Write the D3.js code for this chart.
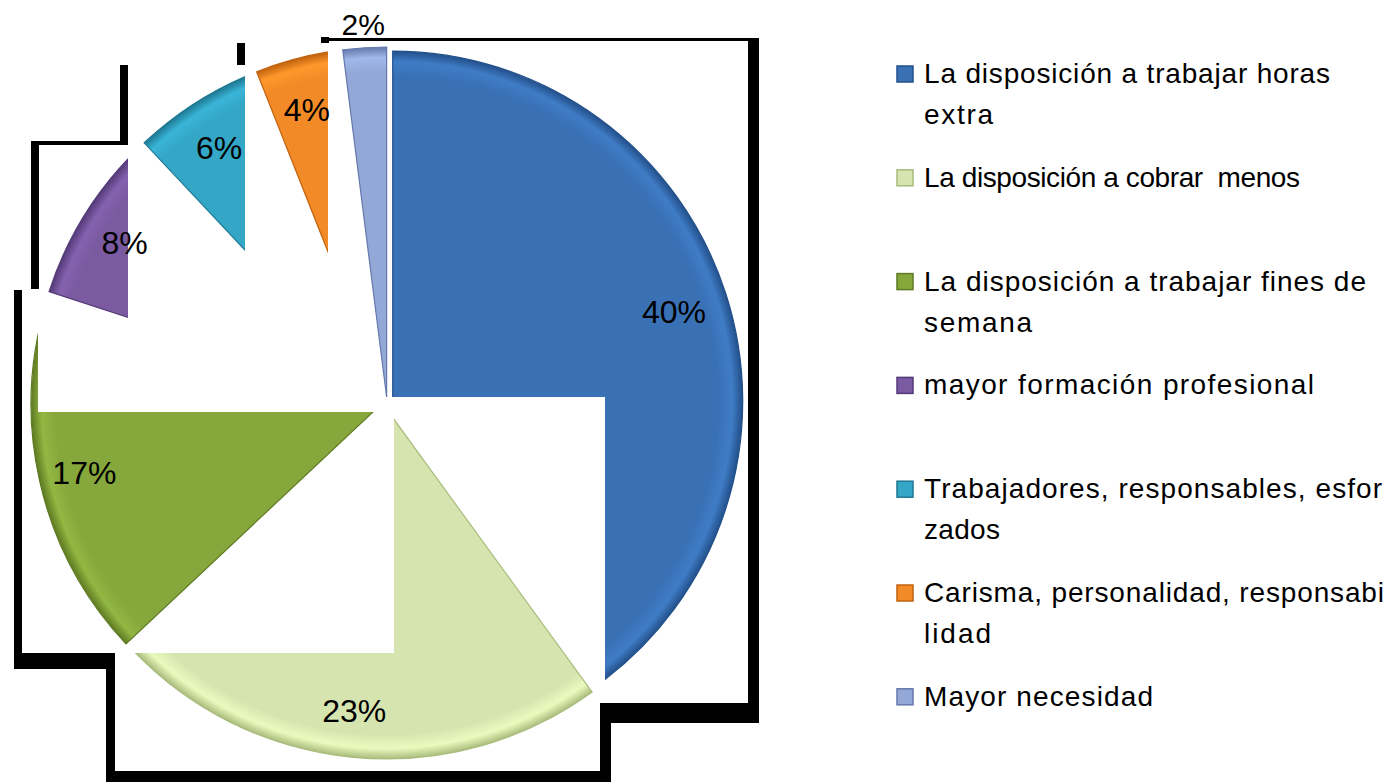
<!DOCTYPE html>
<html>
<head>
<meta charset="utf-8">
<script src="https://cdn.jsdelivr.net/npm/d3@7/dist/d3.min.js"></script>
<style>
  html, body { margin: 0; padding: 0; background: #ffffff; }
  svg { display: block; }
  text { font-family: "Liberation Sans", Arial, sans-serif; white-space: pre; }
</style>
</head>
<body>
<svg id="chart" width="1389" height="782"></svg>
<script>
// ---------------- data ----------------
const categories = [
  "La disposición a trabajar horas extra",
  "La disposición a cobrar  menos",
  "La disposición a trabajar fines de semana",
  "mayor formación profesional",
  "Trabajadores, responsables, esforzados",
  "Carisma, personalidad, responsabilidad",
  "Mayor necesidad"
];
const values = [40, 23, 17, 8, 6, 4, 2];
const legendLines = [
  ["La disposición a trabajar horas", "extra"],
  ["La disposición a cobrar  menos"],
  ["La disposición a trabajar fines de", "semana"],
  ["mayor formación profesional"],
  ["Trabajadores, responsables, esfor", "zados"],
  ["Carisma, personalidad, responsabi", "lidad"],
  ["Mayor necesidad"]
];
const colors = ["#3A71B5", "#D6E5AF", "#86A73C", "#7A5AA0", "#34A6C6", "#F28B27", "#93A8D7"];
const darkColors = ["#23508A", "#A9BC7C", "#5E7A22", "#543A78", "#1E7893", "#C0620E", "#6478AC"];

// ---------------- layout (styling only) ----------------
const W = 1389, H = 782;
const cx = 387, cy = 403, R = 350, explode = 6;
const legendWidths = [[406, 69], [376], [442, 108], [390], [458, 76], [460, 67], [229]];

const svg = d3.select("#chart");
svg.append("rect").attr("width", W).attr("height", H).attr("fill", "#ffffff");

const defs = svg.append("defs");

// gradients (bevel-like rim)
colors.forEach((c, i) => {
  const g = defs.append("radialGradient")
    .attr("id", "grad" + i)
    .attr("gradientUnits", "userSpaceOnUse")
    .attr("cx", 0).attr("cy", 0).attr("r", R);
  g.append("stop").attr("offset", "0%").attr("stop-color", c);
  g.append("stop").attr("offset", "93%").attr("stop-color", c);
  g.append("stop").attr("offset", "97%").attr("stop-color", d3.color(c).brighter(0.25));
  g.append("stop").attr("offset", "100%").attr("stop-color", darkColors[i]);
});

// rendering-artifact tiles: which parts of each slice show through
const clipRects = [
  [[0, 0, W, 397], [605, 0, W - 605, H]],        // blue
  [[394, 0, W - 394, H], [0, 653, W, H - 653]],  // light green
  [[0, 412, W, H - 412], [0, 0, 38, H]],         // green
  [[0, 0, 128, H]],                              // purple
  [[0, 0, 245, H]],                              // cyan
  [[0, 0, 328, H]],                              // orange
  [[0, 0, 388, H]]                               // light blue
];
clipRects.forEach((rs, i) => {
  const cp = defs.append("clipPath").attr("id", "clip" + i);
  rs.forEach(r => cp.append("rect").attr("x", r[0]).attr("y", r[1]).attr("width", r[2]).attr("height", r[3]));
});

// ---------------- pie ----------------
const pie = d3.pie().sort(null).value(d => d)(values);
const arc = d3.arc().innerRadius(0).outerRadius(R);
const labelArc = d3.arc().innerRadius(300).outerRadius(300);
const outerLabelArc = d3.arc().innerRadius(372).outerRadius(372);

function offset(d) {
  const a = (d.startAngle + d.endAngle) / 2;
  return [Math.sin(a) * explode, -Math.cos(a) * explode];
}

pie.forEach((d, i) => {
  const [ox, oy] = offset(d);
  svg.append("g").attr("clip-path", "url(#clip" + i + ")")
    .append("path")
    .attr("transform", `translate(${cx + ox},${cy + oy})`)
    .attr("d", arc(d))
    .attr("fill", `url(#grad${i})`)
    .attr("stroke", darkColors[i])
    .attr("stroke-width", 1.2);
});

// shadow frame fragments (artifact of the original rendering)
const frame = [
  [322, 38, 437, 3], [321, 37, 8, 6], [237, 43, 8, 22], [120, 65, 8, 79],
  [31, 141, 97, 4], [31, 141, 8, 148], [14, 290, 8, 379], [14, 653, 101, 16],
  [106, 653, 9, 129], [106, 771, 505, 11], [600, 703, 11, 79], [600, 703, 159, 20],
  [748, 38, 11, 685]
];
svg.append("g").selectAll("rect").data(frame).join("rect")
  .attr("x", d => d[0]).attr("y", d => d[1])
  .attr("width", d => d[2]).attr("height", d => d[3])
  .attr("fill", "#000");

// data labels
svg.append("g").selectAll("text").data(pie).join("text")
  .attr("transform", d => {
    const [ox, oy] = offset(d);
    const outside = d.data < 3;
    const c = (outside ? outerLabelArc : labelArc).centroid(d);
    const sx = outside ? 0 : -4, sy = outside ? -2 : 3;
    return `translate(${cx + ox + c[0] + sx},${cy + oy + c[1] + sy})`;
  })
  .attr("text-anchor", "middle")
  .attr("dy", "0.36em")
  .attr("font-size", d => d.data < 3 ? 30 : 32)
  .attr("fill", "#000")
  .text(d => d.data + "%");

// ---------------- legend ----------------
const legend = svg.append("g");
const baseY = 83, step = 103.8, lineH = 41;
legendLines.forEach((lines, i) => {
  const y = baseY + i * step;
  legend.append("rect")
    .attr("x", 897).attr("y", y - 17).attr("width", 16).attr("height", 16)
    .attr("fill", colors[i]).attr("stroke", darkColors[i]).attr("stroke-width", 1.5);
  lines.forEach((t, j) => {
    legend.append("text")
      .attr("x", 924).attr("y", y + j * lineH)
      .attr("font-size", 28)
      .attr("fill", "#000")
      .attr("textLength", legendWidths[i][j])
      .attr("lengthAdjust", "spacing")
      .text(t);
  });
});
</script>
</body>
</html>
